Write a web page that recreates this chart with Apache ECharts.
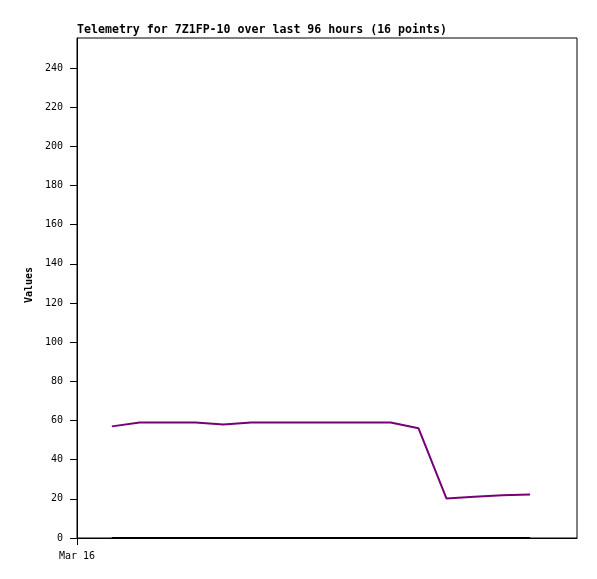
<!DOCTYPE html>
<html><head><meta charset="utf-8">
<script src="https://cdn.jsdelivr.net/npm/echarts@6/dist/echarts.min.js"></script>
<style>html,body{margin:0;padding:0;background:#fff}#c{width:597px;height:579px}</style>
</head><body><div id="c"></div>
<script>
// hours since Mar 16 00:00
const hours = [7.5, 13.5, 19.5, 25.5, 31.5, 37.5, 43.5, 49.5, 55.5, 61.5, 67.5, 73.5, 79.5, 85.5, 91.5, 97.5];
const telemetry = [57, 59, 59, 59, 58, 59, 59, 59, 59, 59, 59, 56, 20.2, 21, 21.8, 22.2];
const baseline = [0, 0, 0, 0, 0, 0, 0, 0, 0, 0, 0, 0, 0, 0, 0, 0];
const yTicks = [0, 20, 40, 60, 80, 100, 120, 140, 160, 180, 200, 220, 240];
const xTicks = [0];
const xTickLabels = ['Mar 16'];
const titleText = 'Telemetry for 7Z1FP-10 over last 96 hours (16 points)';
const yName = 'Values';

const font = 'DejaVu Sans Mono';
const chart = echarts.init(document.getElementById('c'), null, {renderer: 'canvas'});
chart.setOption({
  animation: false,
  backgroundColor: '#fff',
  title: {
    text: titleText, left: 77, top: 24, padding: 0,
    textStyle: {fontFamily: font, fontSize: 11.6, fontWeight: 'bold', color: '#000'}
  },
  grid: {left: 77, right: 20, top: 38, bottom: 41, show: true, borderColor: '#000', borderWidth: 1, backgroundColor: 'transparent'},
  xAxis: {
    type: 'value', min: 0, max: 107.6,
    axisLine: {show: true, onZero: false, lineStyle: {color: '#000', width: 1}},
    axisTick: {show: true, length: 7, customValues: xTicks, lineStyle: {color: '#000'}},
    axisLabel: {show: true, customValues: xTicks, margin: 13, fontFamily: font, fontSize: 10, color: '#000',
      formatter: v => xTickLabels[xTicks.indexOf(v)] || ''},
    splitLine: {show: false}
  },
  yAxis: {
    type: 'value', min: 0, max: 255.3,
    name: yName, nameLocation: 'middle', nameRotate: 90, nameGap: 38,
    nameTextStyle: {fontFamily: font, fontSize: 10, fontWeight: 'bold', color: '#000', padding: [0, 0, 0, 6]},
    axisLine: {show: true, lineStyle: {color: '#000', width: 1}},
    axisTick: {show: true, length: 7, customValues: yTicks, lineStyle: {color: '#000'}},
    axisLabel: {show: true, customValues: yTicks, margin: 14, fontFamily: font, fontSize: 10, color: '#000'},
    splitLine: {show: false}
  },
  series: [
    {type: 'line', data: hours.map((h, i) => [h, baseline[i]]), showSymbol: false,
      lineStyle: {color: '#000', width: 2}, z: 2},
    {type: 'line', data: hours.map((h, i) => [h, telemetry[i]]), showSymbol: false,
      lineStyle: {color: '#760076', width: 2}, z: 3}
  ]
});
</script></body></html>
